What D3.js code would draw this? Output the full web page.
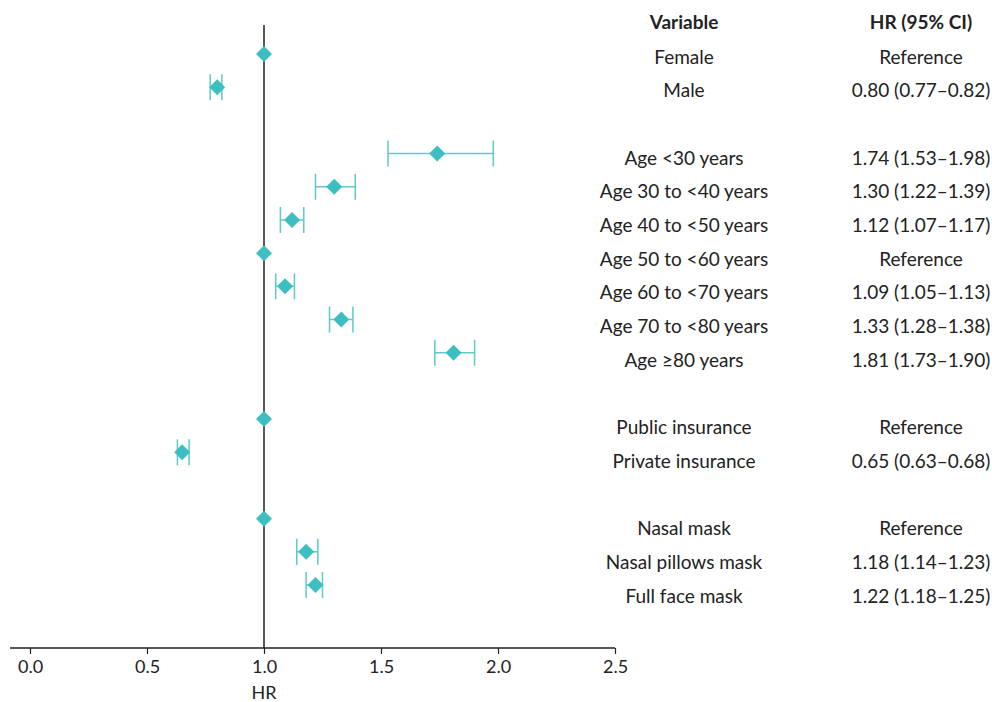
<!DOCTYPE html>
<html>
<head>
<meta charset="utf-8">
<script src="https://cdn.jsdelivr.net/npm/d3@7/dist/d3.min.js"></script>
<style>
  body { margin: 0; background: #fff; }
  text { font-family: "Source Sans Pro", Lato, "Noto Sans", sans-serif; fill: #222; }
</style>
</head>
<body>
<script>
const width = 992;
const height = 702;

// rows (slot index leaves blank gaps between groups)
const labels = ['Female', 'Male', 'Age <30 years', 'Age 30 to <40 years', 'Age 40 to <50 years',
  'Age 50 to <60 years', 'Age 60 to <70 years', 'Age 70 to <80 years', 'Age \u226580 years',
  'Public insurance', 'Private insurance', 'Nasal mask', 'Nasal pillows mask', 'Full face mask'];
const slots = [0, 1, 3, 4, 5, 6, 7, 8, 9, 11, 12, 14, 15, 16];
const hr = [1, 0.80, 1.74, 1.30, 1.12, 1, 1.09, 1.33, 1.81, 1, 0.65, 1, 1.18, 1.22];
const lower = [null, 0.77, 1.53, 1.22, 1.07, null, 1.05, 1.28, 1.73, null, 0.63, null, 1.14, 1.18];
const upper = [null, 0.82, 1.98, 1.39, 1.17, null, 1.13, 1.38, 1.90, null, 0.68, null, 1.23, 1.25];
const ciText = ['Reference', '0.80 (0.77\u20130.82)', '1.74 (1.53\u20131.98)', '1.30 (1.22\u20131.39)',
  '1.12 (1.07\u20131.17)', 'Reference', '1.09 (1.05\u20131.13)', '1.33 (1.28\u20131.38)',
  '1.81 (1.73\u20131.90)', 'Reference', '0.65 (0.63\u20130.68)', 'Reference',
  '1.18 (1.14\u20131.23)', '1.22 (1.18\u20131.25)'];
const xTicks = [0, 0.5, 1.0, 1.5, 2.0, 2.5];

const teal = '#3dbfc2';
const rows = labels.map((label, i) => ({ label, slot: slots[i], hr: hr[i], lo: lower[i], hi: upper[i], ci: ciText[i] }));

const svg = d3.select('body').append('svg')
    .attr('width', width)
    .attr('height', height);

const x = d3.scaleLinear().domain([0, 2.5]).range([30, 615]);
const y = d3.scaleLinear().domain([0, 16]).range([54, 585]);
const yText = d3.scaleLinear().domain([0, 16]).range([57, 596]);  // table rows drift a bit
const axisY = 648;

// x axis
const axis = svg.append('g')
    .attr('transform', `translate(0,${axisY})`)
    .call(d3.axisBottom(x).tickValues(xTicks).tickFormat(d3.format('.1f')).tickSizeOuter(0).tickSize(6));
axis.select('.domain').remove();
axis.append('line')
    .attr('x1', 10).attr('x2', x(2.5))
    .attr('stroke', '#222').attr('stroke-width', 1.3);
axis.selectAll('.tick line').attr('stroke', '#222').attr('stroke-width', 1.2);
axis.selectAll('.tick text')
    .attr('y', 12)
    .style('font-size', '18px')
    .style('font-family', '"Source Sans Pro", Lato, "Noto Sans", sans-serif')
    .attr('fill', '#222');

svg.append('text')
    .attr('x', x(1)).attr('y', 699)
    .attr('text-anchor', 'middle')
    .style('font-size', '18px')
    .text('HR');

// reference line at HR = 1
svg.append('line')
    .attr('x1', x(1)).attr('x2', x(1))
    .attr('y1', 25).attr('y2', axisY)
    .attr('stroke', '#222').attr('stroke-width', 1.5);

// confidence intervals
const ci = svg.append('g').selectAll('g')
  .data(rows.filter((d) => d.lo != null))
  .join('g')
    .attr('stroke', '#5cc9cb')
    .attr('stroke-width', 1.5);
ci.append('line')
    .attr('x1', (d) => x(d.lo)).attr('x2', (d) => x(d.hi))
    .attr('y1', (d) => y(d.slot)).attr('y2', (d) => y(d.slot));
ci.append('line')
    .attr('x1', (d) => x(d.lo)).attr('x2', (d) => x(d.lo))
    .attr('y1', (d) => y(d.slot) - 13).attr('y2', (d) => y(d.slot) + 13);
ci.append('line')
    .attr('x1', (d) => x(d.hi)).attr('x2', (d) => x(d.hi))
    .attr('y1', (d) => y(d.slot) - 13).attr('y2', (d) => y(d.slot) + 13);

// point estimates
svg.append('g').selectAll('path')
  .data(rows)
  .join('path')
    .attr('transform', (d) => `translate(${x(d.hr)},${y(d.slot)})`)
    .attr('d', 'M0,-8L8,0L0,8L-8,0Z')
    .attr('fill', teal);

// table
const colVar = 684;
const colCi = 921;
svg.append('text')
    .attr('x', colVar).attr('y', 22).attr('dy', '0.35em')
    .attr('text-anchor', 'middle')
    .style('font-size', '19px').style('font-weight', 'bold')
    .text('Variable');
svg.append('text')
    .attr('x', colCi).attr('y', 22).attr('dy', '0.35em')
    .attr('text-anchor', 'middle')
    .style('font-size', '19px').style('font-weight', 'bold')
    .text('HR (95% CI)');

const table = svg.append('g').selectAll('g')
  .data(rows)
  .join('g')
    .attr('transform', (d) => `translate(0,${yText(d.slot)})`);
table.append('text')
    .attr('x', colVar).attr('dy', '0.35em')
    .attr('text-anchor', 'middle')
    .style('font-size', '19px')
    .text((d) => d.label);
table.append('text')
    .attr('x', colCi).attr('dy', '0.35em')
    .attr('text-anchor', 'middle')
    .style('font-size', '19px')
    .text((d) => d.ci);
</script>
</body>
</html>
